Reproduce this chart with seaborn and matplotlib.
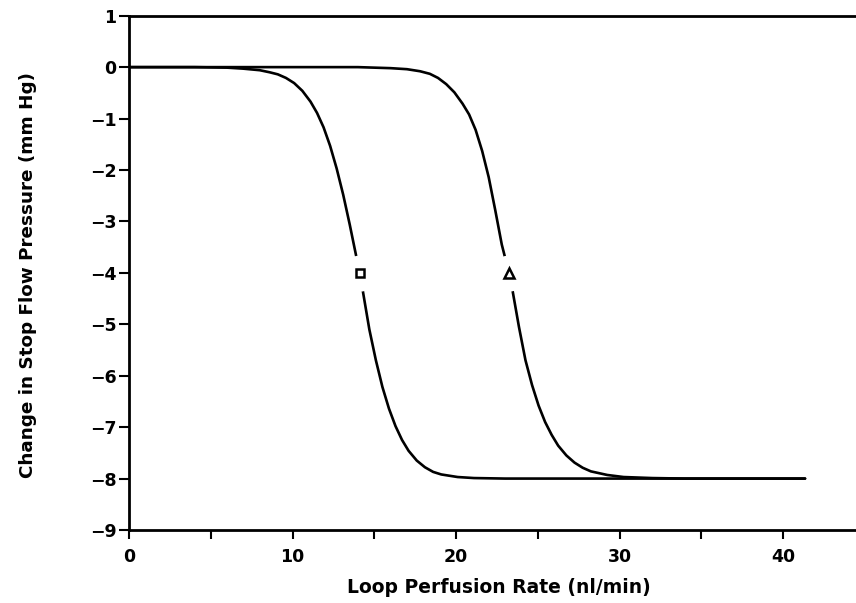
import matplotlib
matplotlib.use("Agg")
import matplotlib.pyplot as plt
import seaborn as sns
import pandas as pd
from matplotlib.ticker import FixedLocator

# ---- data ----
curve_a_x = [0.0, 4.0, 6.0, 7.0, 8.0, 8.6, 9.1, 9.6, 10.1, 10.6, 11.1, 11.5, 11.9,
             12.3, 12.7, 13.1, 13.5, 13.9, 14.1, 14.3, 14.7, 15.1, 15.5, 15.9,
             16.3, 16.7, 17.1, 17.6, 18.1, 18.6, 19.1, 20.1, 21.1, 23.0, 30.0, 41.35]
curve_a_y = [0.00, 0.00, -0.01, -0.03, -0.06, -0.10, -0.14, -0.21, -0.31, -0.46,
             -0.67, -0.89, -1.17, -1.53, -1.97, -2.48, -3.06, -3.68, -4.00, -4.35,
             -5.10, -5.70, -6.22, -6.64, -6.98, -7.25, -7.46, -7.65, -7.78, -7.87,
             -7.92, -7.97, -7.99, -8.00, -8.00, -8.00]

curve_b_x = [0.0, 8.0, 14.0, 16.0, 17.0, 17.8, 18.4, 18.9, 19.4, 19.9, 20.4, 20.8,
             21.2, 21.6, 22.0, 22.4, 22.8, 23.24, 23.45, 23.85, 24.25, 24.65, 25.05,
             25.45, 25.85, 26.25, 26.75, 27.25, 27.75, 28.25, 29.25, 30.25, 32.0,
             34.0, 41.35]
curve_b_y = [0.00, 0.00, 0.00, -0.02, -0.04, -0.08, -0.13, -0.21, -0.33, -0.49,
             -0.71, -0.92, -1.22, -1.63, -2.14, -2.78, -3.45, -4.00, -4.33, -5.05,
             -5.70, -6.18, -6.58, -6.90, -7.15, -7.36, -7.55, -7.69, -7.79, -7.86,
             -7.93, -7.97, -7.99, -8.00, -8.00]

half_x = [14.1, 23.24]
half_y = [-4.0, -4.0]
half_markers = ["s", "^"]

x_major_ticks = [0, 10, 20, 30, 40]
x_minor_ticks = [5, 15, 25, 35]
y_ticks = [1, 0, -1, -2, -3, -4, -5, -6, -7, -8, -9]

x_label = "Loop Perfusion Rate (nl/min)"
y_label = "Change in Stop Flow Pressure (mm Hg)"

# ---- style ----
sns.set_theme(style="ticks")
plt.rcParams["font.family"] = ["DejaVu Sans"]
plt.rcParams["font.weight"] = "bold"
plt.rcParams["lines.solid_capstyle"] = "round"
plt.rcParams["lines.solid_joinstyle"] = "round"

W, H = 856, 603
fig = plt.figure(figsize=(W / 100, H / 100), dpi=100)
fig.patch.set_facecolor("white")
ax = fig.add_axes([129 / W, 1 - 530 / H, (W - 129) / W, 514.3 / H])
ax.set_facecolor("white")

df_a = pd.DataFrame({"x": curve_a_x, "y": curve_a_y})
df_b = pd.DataFrame({"x": curve_b_x, "y": curve_b_y})
sns.lineplot(data=df_a, x="x", y="y", estimator=None, sort=False,
             color="black", linewidth=1.9, ax=ax, zorder=2)
sns.lineplot(data=df_b, x="x", y="y", estimator=None, sort=False,
             color="black", linewidth=1.9, ax=ax, zorder=2)

# white gap around the half-maximal markers
ax.scatter(half_x, half_y, s=26 ** 2, c="white", linewidths=0, zorder=3)
for hx, hy, m in zip(half_x, half_y, half_markers):
    ms = 5.6 if m == "s" else 6.6
    ax.plot([hx], [hy], marker=m, markersize=ms, markerfacecolor="white",
            markeredgecolor="black", markeredgewidth=1.8, linestyle="none", zorder=4)

ax.set_xlim(0, (W - 129) / 16.35)
ax.set_ylim(-9, 1)

ax.xaxis.set_major_locator(FixedLocator(x_major_ticks))
ax.xaxis.set_minor_locator(FixedLocator(x_minor_ticks))
ax.yaxis.set_major_locator(FixedLocator(y_ticks))
ax.set_xticklabels([str(t) for t in x_major_ticks])

ax.tick_params(axis="x", which="both", direction="out", length=6.5, width=1.5,
               pad=6.5, labelsize=12.5, colors="black", top=False)
ax.tick_params(axis="y", which="both", direction="out", length=7, width=1.5,
               pad=2, labelsize=12.5, colors="black", right=False)
for lab in ax.get_xticklabels() + ax.get_yticklabels():
    lab.set_fontweight("bold")

for side in ["left", "bottom", "top"]:
    ax.spines[side].set_visible(True)
    ax.spines[side].set_linewidth(2.0)
    ax.spines[side].set_color("black")
ax.spines["right"].set_visible(False)

ax.set_xlabel(x_label, fontsize=13.5, fontweight="bold", color="black")
ax.set_ylabel(y_label, fontsize=13.2, fontweight="bold", color="black")
ax.xaxis.set_label_coords(0.509, -0.093)
ax.yaxis.set_label_coords(-0.126, 0.496)

fig.savefig("out.png", dpi=100, facecolor="white")
